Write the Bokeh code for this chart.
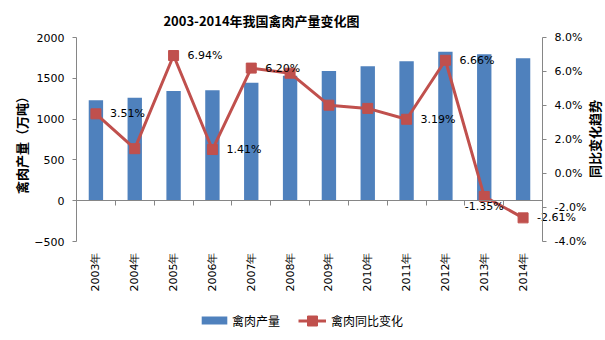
import math
from bokeh.plotting import figure
from bokeh.models import (Range1d, LinearAxis, FixedTicker, PrintfTickFormatter,
                          Legend, LegendItem, ColumnDataSource)
from bokeh.core.properties import value
from bokeh.embed import file_html
from bokeh.resources import INLINE

# ---------------- data ----------------
title = "2003-2014年我国禽肉产量变化图"
left_title = "禽肉产量（万吨）"
right_title = "同比变化趋势"
years = ["2003年", "2004年", "2005年", "2006年", "2007年", "2008年",
         "2009年", "2010年", "2011年", "2012年", "2013年", "2014年"]
output = [1232, 1261, 1343, 1355, 1444, 1530, 1588, 1649, 1710, 1824, 1796, 1747]   # 万吨
growth = [3.51, 1.46, 6.94, 1.41, 6.20, 5.90, 4.02, 3.83, 3.19, 6.66, -1.35, -2.61]  # %
labeled_right = ["2003年", "2005年", "2006年", "2007年", "2011年", "2012年", "2014年"]
labeled_below = ["2013年"]
left_ticks = [-500, 0, 500, 1000, 1500, 2000]
right_ticks = [-4, -2, 0, 2, 4, 6, 8]

BLUE = "#4F81BD"
RED = "#C0504D"
AXIS = "#868686"
CJK = "Noto Sans CJK SC"
NUM = "DejaVu Sans"

# ---------------- layout geometry (pixels) ----------------
W, H = 605, 340
AXIS_TOP = 37                       # pixel row of the top of the value axes
BOTTOM_BORDER = 5
LEFT = 76                           # pixel column of the left value axis
PLOT_W = 466                        # pixel width of the category area
AXIS_PX = 204                       # pixel height of the value axes
FRAME_H = H - BOTTOM_BORDER         # frame spans (almost) the whole canvas
TITLE_CX, TITLE_CY = 261, 20
LTITLE_CX, LTITLE_CY = 21, 141.5
RTITLE_CX, RTITLE_CY = 594, 138.5
upp_l = (left_ticks[-1] - left_ticks[0]) / AXIS_PX    # left units per pixel
upp_r = (right_ticks[-1] - right_ticks[0]) / AXIS_PX  # right units per pixel
n = len(years)
ppx = PLOT_W / n                    # pixels per category


def px_x(px):      # pixel column -> x data
    return (px - LEFT) / ppx


def px_y(py):      # pixel row -> left-axis data
    return left_ticks[-1] - (py - AXIS_TOP) * upp_l


xs = [i + 0.5 for i in range(n)]

p = figure(width=W, height=H, output_backend="svg", toolbar_location=None,
           x_axis_location=None, title_location=None,
           x_range=Range1d(px_x(0), px_x(W)),
           y_range=Range1d(px_y(FRAME_H), px_y(0)),
           min_border_left=0, min_border_right=0,
           min_border_top=0, min_border_bottom=BOTTOM_BORDER,
           outline_line_color=None, background_fill_color="white",
           border_fill_color="white")
p.xgrid.visible = False
p.ygrid.visible = False
p.extra_y_ranges = {"pct": Range1d(right_ticks[-1] - (FRAME_H - AXIS_TOP) * upp_r,
                                   right_ticks[-1] + AXIS_TOP * upp_r)}

# titles
p.text(x=[px_x(TITLE_CX)], y=[px_y(TITLE_CY)], text=[title],
       text_align="center", text_baseline="middle",
       text_font=value(CJK), text_font_size="13px", text_font_style="bold",
       text_color="black")
p.text(x=[px_x(LTITLE_CX), px_x(RTITLE_CX)], y=[px_y(LTITLE_CY), px_y(RTITLE_CY)],
       text=[left_title, right_title], angle=math.pi / 2,
       text_align="center", text_baseline="middle",
       text_font=value(CJK), text_font_size="13px", text_font_style="bold",
       text_color="black")

# bars
src = ColumnDataSource(dict(x=xs, out=output, g=growth, year=years))
bars = p.vbar(x="x", top="out", width=0.37, source=src, fill_color=BLUE, line_color=None)

# growth line
ln = p.line(x="x", y="g", source=src, y_range_name="pct", line_color=RED, line_width=3)
mk = p.scatter(x="x", y="g", source=src, y_range_name="pct", marker="square", size=10,
               fill_color=RED, line_color=RED)

# data labels
def lab_src(sel):
    idx = [years.index(s) for s in sel]
    return ColumnDataSource(dict(x=[xs[i] for i in idx], y=[growth[i] for i in idx],
                                 t=["%.2f%%" % growth[i] for i in idx]))

p.text(x="x", y="y", text="t", source=lab_src(labeled_right), y_range_name="pct",
       x_offset=14, text_align="left", text_baseline="middle",
       text_font=value(NUM), text_font_size="11px", text_color="black")
p.text(x="x", y="y", text="t", source=lab_src(labeled_below), y_range_name="pct",
       y_offset=10, text_align="center", text_baseline="middle",
       text_font=value(NUM), text_font_size="11px", text_color="black")

# category labels (rotated, reading upward)
p.text(x="x", y=left_ticks[0] - 11 * upp_l, text="year", source=src,
       angle=math.pi / 2, text_align="right", text_baseline="middle",
       text_font=value(NUM), text_font_size="11px", text_color="black")

# zero line with category boundary ticks
za = LinearAxis(fixed_location=0, bounds=(0, n),
                ticker=FixedTicker(ticks=list(range(1, n))),
                major_label_text_color=None, major_label_text_font_size="1px",
                axis_line_color=AXIS, major_tick_line_color=AXIS,
                major_tick_in=0, major_tick_out=5, minor_tick_line_color=None)
p.add_layout(za, "below")

# left axis, pinned at the left end of the categories
ya = p.yaxis[0]
ya.fixed_location = 0
ya.bounds = (left_ticks[0], left_ticks[-1])
ya.ticker = FixedTicker(ticks=left_ticks)
ya.major_label_text_font = NUM
ya.major_label_text_font_size = "11px"
ya.major_label_text_color = "black"
ya.major_label_standoff = 8
ya.axis_line_color = AXIS
ya.major_tick_line_color = AXIS
ya.major_tick_in = 0
ya.major_tick_out = 4
ya.minor_tick_line_color = None

# right axis, pinned at the right end of the categories
ra = LinearAxis(y_range_name="pct", fixed_location=n,
                bounds=(right_ticks[0], right_ticks[-1]),
                ticker=FixedTicker(ticks=right_ticks),
                formatter=PrintfTickFormatter(format="%.1f%%"),
                major_label_text_font=NUM, major_label_text_font_size="11px",
                major_label_text_color="black", major_label_standoff=8,
                axis_line_color=AXIS, major_tick_line_color=AXIS,
                major_tick_in=0, major_tick_out=4, minor_tick_line_color=None)
p.add_layout(ra, "right")

# legends (inside the frame, below the category labels)
common = dict(padding=0, margin=0, spacing=0, border_line_color=None,
              background_fill_alpha=0, label_text_font=CJK,
              label_text_font_size="12px", label_text_color="black")
lg1 = Legend(items=[LegendItem(label="禽肉产量", renderers=[bars])],
             location=(198, 5), glyph_width=32, glyph_height=10, label_height=20,
             label_standoff=2, **common)
lg2 = Legend(items=[LegendItem(label="禽肉同比变化", renderers=[ln, mk])],
             location=(298, 2.5), glyph_width=28, glyph_height=25, label_height=25,
             label_standoff=5, **common)
p.add_layout(lg1, "center")
p.add_layout(lg2, "center")

open("out.html", "w").write(file_html(p, INLINE))
